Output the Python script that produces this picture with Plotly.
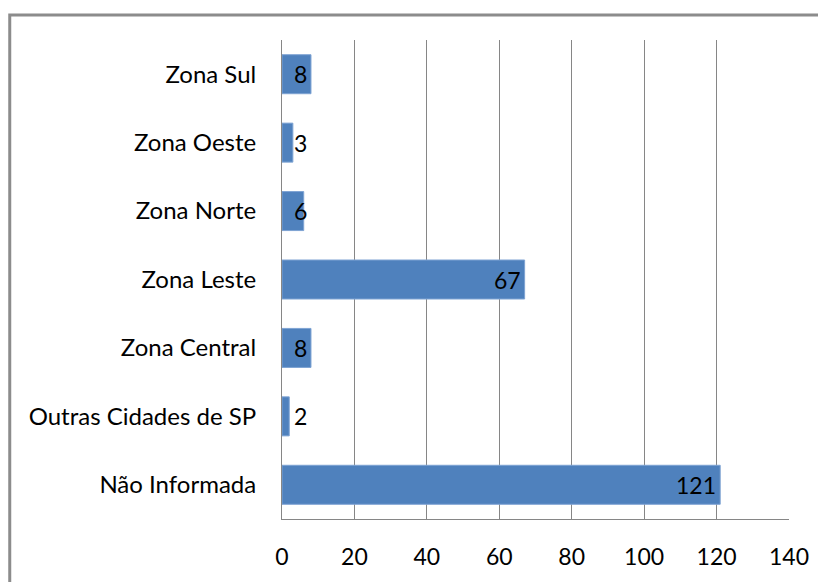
import plotly.graph_objects as go

# categorias de baixo para cima (como no grafico original)
categorias = [
    "Não Informada",
    "Outras Cidades de SP",
    "Zona Central",
    "Zona Leste",
    "Zona Norte",
    "Zona Oeste",
    "Zona Sul",
]
valores = [121, 2, 8, 67, 6, 3, 8]
x_ticks = [0, 20, 40, 60, 80, 100, 120, 140]

FONT = "Lato"
AZUL = "#4F81BD"
CINZA = "#868686"

# a pagina html tem 8px de margem no body, por isso 818x574
W, H = 818, 574

fig = go.Figure()

fig.add_trace(
    go.Bar(
        x=valores,
        y=categorias,
        orientation="h",
        width=0.57,
        marker=dict(color=AZUL, line=dict(color="#7EA3D3", width=1)),
        hoverinfo="x+y",
    )
)

# rotulos de dados "dentro na ponta" (barras pequenas: texto passa da barra)
for cat, v in zip(categorias, valores):
    fig.add_annotation(
        x=max(v, 8),
        y=cat,
        text=str(v),
        showarrow=False,
        xanchor="right",
        xshift=-2,
        font=dict(family=FONT, size=23, color="#000000"),
    )

# moldura do grafico (lado direito fica fora da imagem)
fig.add_shape(
    type="rect",
    xref="paper",
    yref="paper",
    x0=-0.537,
    x1=1.2,
    y0=-0.3,
    y1=1.052,
    line=dict(color="#8C8C8C", width=3),
    fillcolor="rgba(0,0,0,0)",
    layer="below",
)

fig.update_layout(
    width=W,
    height=H,
    margin=dict(l=274, r=37, t=32, b=57),
    paper_bgcolor="white",
    plot_bgcolor="white",
    showlegend=False,
    font=dict(family=FONT, size=24, color="#000000"),
    xaxis=dict(
        range=[0, 140],
        tickvals=x_ticks,
        showgrid=True,
        gridcolor=CINZA,
        gridwidth=1,
        zeroline=False,
        showline=True,
        linecolor=CINZA,
        linewidth=1,
        ticks="",
        ticklabelstandoff=17,
        tickfont=dict(size=23),
        fixedrange=True,
    ),
    yaxis=dict(
        categoryorder="array",
        categoryarray=categorias,
        showgrid=False,
        zeroline=False,
        showline=True,
        linecolor=CINZA,
        linewidth=1,
        ticks="",
        ticklabelstandoff=20,
        fixedrange=True,
    ),
)

fig.write_html("out.html")
